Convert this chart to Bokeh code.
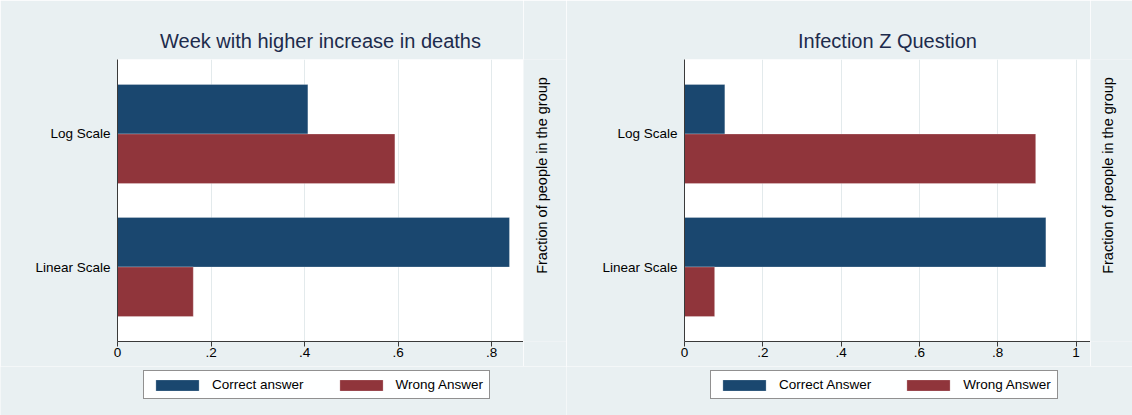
from bokeh.plotting import figure
from bokeh.models import (FactorRange, Range1d, Legend, LegendItem, FixedTicker, Label,
                          ColumnDataSource, CustomJSTickFormatter)
from bokeh.transform import dodge
from bokeh.layouts import row, column
from bokeh.embed import file_html
from bokeh.resources import INLINE

# ---- data ----
categories = ["Linear Scale", "Log Scale"]

deaths_title = "Week with higher increase in deaths"
deaths_correct = [0.838, 0.407]
deaths_wrong = [0.162, 0.593]
deaths_legend = ["Correct answer", "Wrong Answer"]
deaths_ticks = [0, 0.2, 0.4, 0.6, 0.8]

infection_title = "Infection Z Question"
infection_correct = [0.923, 0.103]
infection_wrong = [0.077, 0.897]
infection_legend = ["Correct Answer", "Wrong Answer"]
infection_ticks = [0, 0.2, 0.4, 0.6, 0.8, 1]

side_label = "Fraction of people in the group"

# ---- style ----
BG = "#e9f0f2"
NAVY = "#1a476f"
MAROON = "#90353b"
FONT = "Liberation Sans"
AXIS = "#3a3a3a"
GRID = "#e3eaec"
H_TOP = 366
H_LEG = 49
BAR_LINE = dict(line_color="white", line_alpha=0.35, line_width=0.7)


def make(title, correct, wrong, ticks, xmax, width, border_left):
    src = ColumnDataSource(dict(cat=categories, correct=correct, wrong=wrong))
    p = figure(width=width, height=H_TOP,
               y_range=FactorRange(factors=categories, range_padding=0.06,
                                   range_padding_units="absolute"),
               x_range=Range1d(0, xmax),
               output_backend="svg", toolbar_location=None,
               min_border_left=border_left, min_border_right=0,
               min_border_top=59, min_border_bottom=H_TOP - 341,
               background_fill_color="white", border_fill_color=BG,
               outline_line_color=None)

    p.hbar(y=dodge("cat", 0.186, range=p.y_range), right="correct", left=0,
           height=0.372, source=src, fill_color=NAVY, **BAR_LINE)
    p.hbar(y=dodge("cat", -0.186, range=p.y_range), right="wrong", left=0,
           height=0.372, source=src, fill_color=MAROON, **BAR_LINE)

    p.title.text = title
    p.title.align = "center"
    p.title.text_font_size = "20px"
    p.title.text_font_style = "normal"
    p.title.text_color = "#1d2b4c"
    p.title.text_font = FONT
    p.title.standoff = 16

    ticker = FixedTicker(ticks=ticks)
    p.xaxis.ticker = ticker
    p.xgrid.ticker = ticker
    p.xaxis.formatter = CustomJSTickFormatter(
        code="var s = (Math.round(tick*10)/10).toString(); return s.replace(/^0\\./, '.');")
    p.xaxis.minor_tick_line_color = None
    p.xaxis.major_tick_out = 5
    p.xaxis.major_tick_in = 0
    p.xaxis.major_label_standoff = 1
    p.xaxis.axis_line_color = AXIS
    p.xaxis.major_tick_line_color = AXIS
    p.xaxis.major_label_text_font = FONT
    p.xaxis.major_label_text_font_size = "13.5px"
    p.xaxis.major_label_text_color = "black"

    p.yaxis.major_tick_out = 0
    p.yaxis.major_tick_in = 0
    p.yaxis.minor_tick_line_color = None
    p.yaxis.major_label_standoff = 7
    p.yaxis.axis_line_color = AXIS
    p.yaxis.major_label_text_font = FONT
    p.yaxis.major_label_text_font_size = "13.5px"
    p.yaxis.major_label_text_color = "black"

    p.xgrid.grid_line_color = GRID
    p.ygrid.grid_line_color = None
    return p


def make_side(width, x_center):
    s = figure(width=width, height=H_TOP, x_range=Range1d(0, 1), y_range=Range1d(0, 1),
               output_backend="svg", toolbar_location=None, title=None,
               x_axis_location=None, y_axis_location=None, min_border=0,
               background_fill_color=BG, border_fill_color=BG,
               outline_line_color=None)
    s.xgrid.grid_line_color = None
    s.ygrid.grid_line_color = None
    s.add_layout(Label(x=x_center, y=H_TOP - 200, x_units="screen", y_units="screen",
                       text=side_label, angle=90, angle_units="deg",
                       text_align="center", text_baseline="middle",
                       text_font=FONT, text_font_size="14.5px", text_color="black"))
    return s


def make_legend(labels, correct, wrong, x0):
    src = ColumnDataSource(dict(cat=categories, correct=correct, wrong=wrong))
    lf = figure(width=566, height=H_LEG, x_range=Range1d(0, 1),
                y_range=FactorRange(factors=categories),
                output_backend="svg", toolbar_location=None, title=None,
                x_axis_location=None, y_axis_location=None, min_border=0,
                background_fill_color=BG, border_fill_color=BG,
                outline_line_color=None)
    lf.xgrid.grid_line_color = None
    lf.ygrid.grid_line_color = None
    r1 = lf.hbar(y="cat", right="correct", height=0.5, source=src,
                 fill_color=NAVY, visible=False, **BAR_LINE)
    r2 = lf.hbar(y="cat", right="wrong", height=0.5, source=src,
                 fill_color=MAROON, visible=False, **BAR_LINE)
    legend = Legend(items=[LegendItem(label=labels[0], renderers=[r1]),
                           LegendItem(label=labels[1], renderers=[r2])],
                    orientation="horizontal", location=(x0, 16),
                    glyph_width=54, glyph_height=14, label_height=14,
                    label_standoff=8, spacing=30, padding=6, margin=0,
                    border_line_color="#222222", border_line_width=1,
                    background_fill_color="white",
                    inactive_fill_alpha=0,
                    label_text_font=FONT, label_text_font_size="13.5px",
                    label_text_color="black")
    lf.add_layout(legend)
    return lf


p1 = make(deaths_title, deaths_correct, deaths_wrong, deaths_ticks, 0.868, 523, 117)
s1 = make_side(43, 18.5)
p2 = make(infection_title, infection_correct, infection_wrong, infection_ticks,
          1.037, 524, 118)
s2 = make_side(42, 17.5)
l1 = make_legend(deaths_legend, deaths_correct, deaths_wrong, 143)
l2 = make_legend(infection_legend, infection_correct, infection_wrong, 144)

layout = column(row(p1, s1, p2, s2, spacing=0), row(l1, l2, spacing=0), spacing=0)
open("out.html", "w").write(file_html(layout, INLINE))
